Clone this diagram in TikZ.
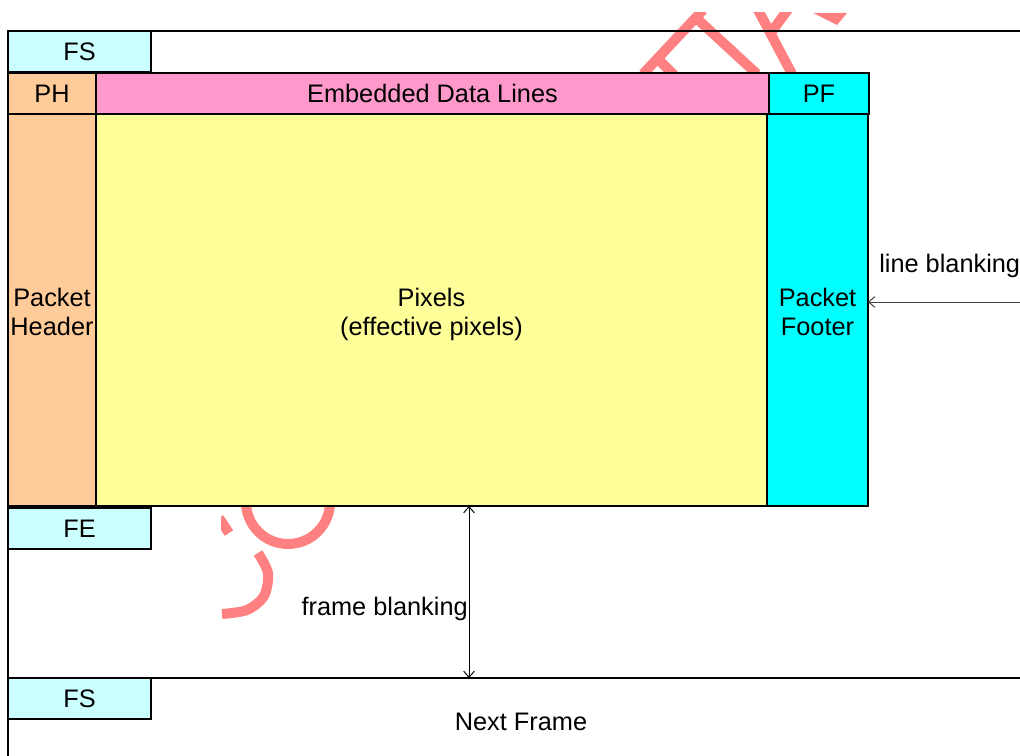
\documentclass[tikz,border=0pt]{standalone}
\usepackage{fontspec}
\setmainfont{Liberation Sans}
\usetikzlibrary{arrows.meta}
\definecolor{fsbg}{HTML}{CCFFFF}
\definecolor{hdrbg}{HTML}{FFCC99}
\definecolor{edlbg}{HTML}{FF99CC}
\definecolor{ftrbg}{HTML}{00FFFF}
\definecolor{pixbg}{HTML}{FFFF99}
\definecolor{wmred}{HTML}{FF8080}
\newcommand{\bodyfs}{\fontsize{19}{21.75}\selectfont}
\def\px{0.75pt}
\tikzset{
  blk/.style={draw=black, line width=1.5pt, inner sep=0pt, outer sep=0pt, anchor=north west, align=center, font=\bodyfs},
  lbl/.style={inner sep=0pt, font=\bodyfs},
  frm/.style={draw=black, line width=1.5pt},
  arr/.style={line width=0.75pt, -{Straight Barb[length=4.5pt,width=8pt]}},
  dbl/.style={line width=0.75pt, {Straight Barb[length=4.5pt,width=8pt]}-{Straight Barb[length=4.5pt,width=8pt]}},
  wm/.style={draw=wmred, line width=7.5pt},
}

\begin{document}
\begin{tikzpicture}[x=0.75pt,y=-0.75pt]
  \useasboundingbox (0,0) rectangle (1020,756);

  % watermark fragments
  \begin{scope}
    \clip (221,13) rectangle (1020,756);
    \draw[wm] (288,502) circle[radius=42*\px];
    \draw[wm] plot[smooth] coordinates {(258,553) (268,573) (264,596) (247,610) (222,614)};
    \draw[wm] (219,518) -- (229,533);
    \draw[wm] (643,74) -- (703,10);
    \draw[wm] (657,58) -- (674,75);
    \draw[wm] (694,16) -- (757,74);
    \draw[wm] (757,8) -- (792,74);
    \draw[wm] (770,34) -- (789,8);
    \fill[wmred] (813,13) -- (847,13) -- (837,25) -- cycle;
  \end{scope}

  % frame outline
  \draw[frm] (1020,31) -- (8,31) -- (8,756);
  \draw[frm] (8,678) -- (1020,678);

  % blocks
  \node[blk, fill=fsbg, minimum width=143*\px, minimum height=41*\px] (fs1) at (8,31) {FS};
  \node[blk, fill=hdrbg, minimum width=88*\px, minimum height=41*\px] (ph) at (8,73) {PH};
  \node[blk, fill=edlbg, minimum width=673*\px, minimum height=41*\px] (edl) at (96,73) {Embedded Data Lines};
  \node[blk, fill=ftrbg, minimum width=100*\px, minimum height=41*\px] (pf) at (769,73) {PF};
  \node[blk, fill=hdrbg, minimum width=88*\px, minimum height=392*\px] (hdr) at (8,114) {\rule{0pt}{16.9pt}Packet\\Header};
  \node[blk, fill=pixbg, minimum width=671*\px, minimum height=392*\px] (pix) at (96,114) {\rule{0pt}{19.8pt}Pixels\\(effective pixels)};
  \node[blk, fill=ftrbg, minimum width=101*\px, minimum height=392*\px] (ftr) at (767,114) {\rule{0pt}{16.9pt}Packet\\Footer};
  \node[blk, fill=fsbg, minimum width=143*\px, minimum height=41*\px] (fe) at (8,508) {FE};
  \node[blk, fill=fsbg, minimum width=143*\px, minimum height=41*\px] (fs2) at (8,678) {FS};

  % blanking
  \coordinate (fbT) at (469,506);
  \coordinate (fbB) at (469,678);
  \draw[dbl] (fbT) -- (fbB);
  \node[lbl, anchor=east] (fbtxt) at (468,609) {frame blanking};

  \coordinate (lbR) at (1020,302);
  \draw[arr, draw=black!75] (lbR) -- (lbR -| ftr.east);
  \node[lbl, anchor=west] (lbtxt) at (879,266) {line blanking};

  \node[lbl] (nxt) at (521,722) {Next Frame};
\end{tikzpicture}
\end{document}
